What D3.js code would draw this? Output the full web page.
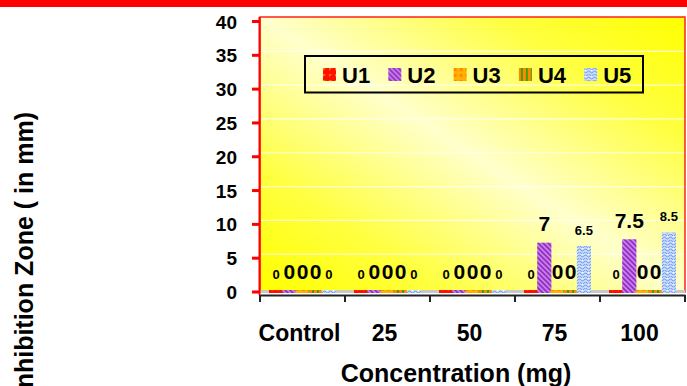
<!DOCTYPE html>
<html>
<head>
<meta charset="utf-8">
<script src="https://cdn.jsdelivr.net/npm/d3@7"></script>
<style>
  html, body { margin: 0; padding: 0; background: #fff; }
  svg { display: block; font-family: "Liberation Sans", Arial, sans-serif; font-weight: bold; }
</style>
</head>
<body>
<svg id="chart" width="687" height="386"></svg>
<script>
// Inhibition zone measurements per concentration, one array per sample
const categories = ["Control", "25", "50", "75", "100"];
const seriesNames = ["U1", "U2", "U3", "U4", "U5"];
const U1 = [0, 0, 0, 0, 0];
const U2 = [0, 0, 0, 7, 7.5];
const U3 = [0, 0, 0, 0, 0];
const U4 = [0, 0, 0, 0, 0];
const U5 = [0, 0, 0, 6.5, 8.5];
const yTicks = [0, 5, 10, 15, 20, 25, 30, 35, 40];
const seriesValues = [U1, U2, U3, U4, U5];

const svg = d3.select("#chart");
const plot = { left: 260, right: 685, top: 17, floor: 292 };
const depth = 2;

const x0 = d3.scaleBand().domain(categories).range([plot.left, plot.right]);
const x1 = d3.scaleBand().domain(seriesNames).range([9.5, x0.bandwidth() - 9.5]);
const y = d3.scaleLinear().domain([0, 40]).range([plot.floor, 21.5]);

// fill patterns for each sample
const defs = svg.append("defs");
const grad = defs.append("linearGradient").attr("id", "wall")
  .attr("x1", 0).attr("y1", 1).attr("x2", 1).attr("y2", 0);
grad.append("stop").attr("offset", 0).attr("stop-color", "#ffff00");
grad.append("stop").attr("offset", 0.22).attr("stop-color", "#ffff40");
grad.append("stop").attr("offset", 0.5).attr("stop-color", "#ffffcc");
grad.append("stop").attr("offset", 0.78).attr("stop-color", "#ffff40");
grad.append("stop").attr("offset", 1).attr("stop-color", "#ffff00");

function pat(id, w, h, build) {
  const p = defs.append("pattern").attr("id", id).attr("patternUnits", "userSpaceOnUse")
    .attr("width", w).attr("height", h);
  build(p);
}
pat("pU1", 6, 6, p => {
  p.append("rect").attr("width", 6).attr("height", 6).attr("fill", "#ff1000");
  p.append("path").attr("d", "M0,0 L3,0 L0,3 Z").attr("fill", "#ff7000");
});
pat("pU2", 5, 5, p => {
  p.append("rect").attr("width", 5).attr("height", 5).attr("fill", "#cc80ee");
  p.append("path").attr("d", "M-1,-1 L6,6 M-1,4 L1,6 M4,-1 L6,1")
    .attr("stroke", "#9030c0").attr("stroke-width", 1.8);
});
pat("pU3", 6, 6, p => {
  p.append("rect").attr("width", 6).attr("height", 6).attr("fill", "#ffb000");
  p.append("rect").attr("x", 0).attr("y", 0).attr("width", 3).attr("height", 3).attr("fill", "#ff8800");
});
pat("pU4", 5, 5, p => {
  p.append("rect").attr("width", 5).attr("height", 5).attr("fill", "#ff8800");
  p.append("rect").attr("x", 2).attr("width", 2).attr("height", 5).attr("fill", "#44a000");
});
pat("pU5", 6, 6, p => {
  p.append("rect").attr("width", 6).attr("height", 6).attr("fill", "#c8dcff");
  p.append("path").attr("d", "M0,1 Q1.5,3 3,1 T6,1 M0,4 Q1.5,6 3,4 T6,4")
    .attr("stroke", "#6f98e8").attr("stroke-width", 1).attr("fill", "none");
  p.append("circle").attr("cx", 1.5).attr("cy", 2.5).attr("r", 0.8).attr("fill", "#ffffff");
});

// top banner
svg.append("rect").attr("x", 0).attr("y", 0).attr("width", 687).attr("height", 7).attr("fill", "#ff0000");

// plot wall
svg.append("rect")
  .attr("x", plot.left).attr("y", plot.top)
  .attr("width", plot.right - plot.left).attr("height", plot.floor - plot.top)
  .attr("fill", "url(#wall)").attr("stroke", "#ff2020").attr("stroke-width", 1.5);

// back-wall gridlines (set back by the 3D depth)
svg.append("g").selectAll("line").data(yTicks.filter(d => d > 0 && d < 40)).join("line")
  .attr("x1", plot.left + 1).attr("x2", plot.right - 1)
  .attr("y1", d => y(d) - 4).attr("y2", d => y(d) - 4)
  .attr("stroke", "#ffffff").attr("stroke-opacity", 0.75).attr("stroke-width", 1.2);

// floor
svg.append("rect").attr("x", plot.left).attr("y", plot.floor - 2)
  .attr("width", plot.right - plot.left).attr("height", 3).attr("fill", "#c8c8c8");

// bars
const groups = svg.append("g").selectAll("g").data(categories).join("g")
  .attr("transform", c => `translate(${x0(c)},0)`);
const barData = (c, ci) => seriesNames.map((s, si) => ({ s, v: seriesValues[si][ci] }));
groups.each(function (c, ci) {
  const g = d3.select(this);
  g.selectAll("rect").data(barData(c, ci)).join("rect")
    .attr("x", d => x1(d.s) - 0.5)
    .attr("width", x1.bandwidth() + 1)
    .attr("y", d => y(d.v) - depth)
    .attr("height", d => y(0) - y(d.v) + depth + 1)
    .attr("fill", d => `url(#p${d.s})`);
  g.selectAll("text").data(barData(c, ci)).join("text")
    .attr("x", d => x1(d.s) + x1.bandwidth() / 2)
    .attr("y", d => y(d.v) - 13.5)
    .attr("text-anchor", "middle")
    .attr("font-size", d => (d.s === "U1" || d.s === "U5") ? 13 : 21)
    .attr("fill", "#000")
    .text(d => d.v);
});

// y axis (red)
const yAxis = svg.append("g");
yAxis.append("line").attr("x1", 259.5).attr("x2", 259.5).attr("y1", plot.top).attr("y2", 295)
  .attr("stroke", "#ff0000").attr("stroke-width", 2);
yAxis.selectAll("line.tick").data(yTicks).join("line").attr("class", "tick")
  .attr("x1", 252).attr("x2", 260).attr("y1", d => y(d)).attr("y2", d => y(d))
  .attr("stroke", "#ff0000").attr("stroke-width", 3);
yAxis.selectAll("text").data(yTicks).join("text")
  .attr("x", 237).attr("y", d => y(d) + 7)
  .attr("text-anchor", "end").attr("font-size", 19).text(d => d);

// x axis (black)
const xAxis = svg.append("g").attr("transform", "translate(0,295)")
  .call(d3.axisBottom(x0).tickSizeInner(0).tickSizeOuter(0).tickFormat(""));
xAxis.select(".domain").attr("stroke", "#222").attr("stroke-width", 2);
xAxis.selectAll(".tick").remove();
const bounds = categories.map(c => x0(c)).concat([plot.right]);
xAxis.selectAll("line.sep").data(bounds).join("line").attr("class", "sep")
  .attr("x1", d => d).attr("x2", d => d).attr("y1", 0).attr("y2", 7)
  .attr("stroke", "#222").attr("stroke-width", 2);
svg.append("g").selectAll("text").data(categories).join("text")
  .attr("x", c => x0(c) + x0.bandwidth() / 2 - 3).attr("y", 341)
  .attr("text-anchor", "middle").attr("font-size", 23).text(c => c);

// axis titles
svg.append("text").attr("x", 456).attr("y", 382).attr("text-anchor", "middle")
  .attr("font-size", 25).text("Concentration (mg)");
svg.append("text").attr("transform", "translate(33,112) rotate(-90)")
  .attr("text-anchor", "end").attr("font-size", 25).text("Inhibition Zone ( in mm)");

// legend
const legend = svg.append("g");
legend.append("rect").attr("x", 305).attr("y", 56).attr("width", 338).attr("height", 36.5)
  .attr("fill", "none").attr("stroke", "#000").attr("stroke-width", 2);
const li = legend.selectAll("g").data(seriesNames).join("g")
  .attr("transform", (d, i) => `translate(${323 + i * 65.3},68)`);
li.append("rect").attr("width", 13).attr("height", 13).attr("fill", d => `url(#p${d})`);
li.append("text").attr("x", 19).attr("y", 15).attr("font-size", 22).text(d => d);
</script>
</body>
</html>
